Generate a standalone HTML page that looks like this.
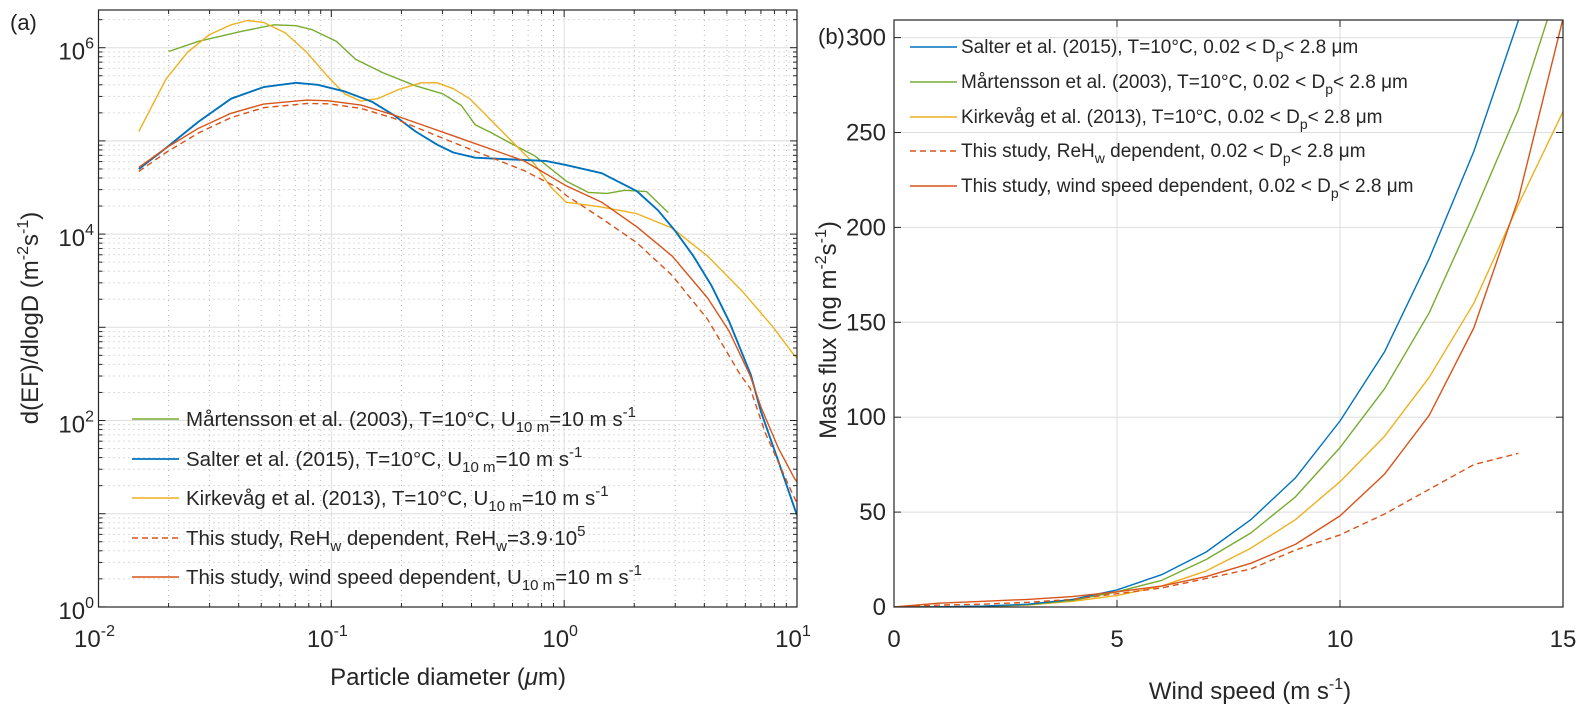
<!DOCTYPE html>
<html><head><meta charset="utf-8">
<style>
html,body{margin:0;padding:0;background:#fff;}
svg{display:block;font-family:"Liberation Sans",Arial,sans-serif;}
</style></head>
<body>
<svg id="fig" width="1593" height="717" viewBox="0 0 1593 717" xmlns="http://www.w3.org/2000/svg">
<defs>
<clipPath id="clipA"><rect x="98.5" y="10" width="698.5" height="597"/></clipPath>
<clipPath id="clipB"><rect x="894" y="20" width="669" height="587"/></clipPath>
</defs>
<rect x="0" y="0" width="1593" height="717" fill="#fff"/>
<g id="gridA"></g>
<g id="gridB"></g>
<g id="seriesA" clip-path="url(#clipA)"></g>
<g id="seriesB" clip-path="url(#clipB)"></g>
<g id="axesA"></g>
<g id="axesB"></g>

<text x="10" y="30" font-size="22" fill="#222">(a)</text>
<text x="818" y="44" font-size="22" fill="#222">(b)</text>

<text x="448" y="685" font-size="24" fill="#262626" text-anchor="middle">Particle diameter (<tspan font-style="italic">μ</tspan>m)</text>
<text transform="translate(38,318) rotate(-90)" font-size="24" fill="#262626" text-anchor="middle">d(EF)/dlogD (m<tspan dy="-10" font-size="16">-2</tspan><tspan dy="10">s</tspan><tspan dy="-10" font-size="16">-1</tspan><tspan dy="10">)</tspan></text>
<text x="1250" y="699" font-size="24" fill="#262626" text-anchor="middle">Wind speed (m s<tspan dy="-10" font-size="16">-1</tspan><tspan dy="10">)</tspan></text>
<text transform="translate(836,330) rotate(-90)" font-size="24" fill="#262626" text-anchor="middle">Mass flux (ng m<tspan dy="-10" font-size="16">-2</tspan><tspan dy="10">s</tspan><tspan dy="-10" font-size="16">-1</tspan><tspan dy="10">)</tspan></text>

<g font-size="20.5" fill="#262626">
<g>
<line x1="132" y1="419" x2="179" y2="419" stroke="#77AC30" stroke-width="1.4"/>
<text x="186" y="426">Mårtensson et al. (2003), T=10°C, U<tspan dy="6" font-size="15">10 m</tspan><tspan dy="-6">=10 m s</tspan><tspan dy="-9" font-size="15">-1</tspan></text></g>
<g>
<line x1="132" y1="459" x2="179" y2="459" stroke="#0072BD" stroke-width="1.8"/>
<text x="186" y="466">Salter et al. (2015), T=10°C, U<tspan dy="6" font-size="15">10 m</tspan><tspan dy="-6">=10 m s</tspan><tspan dy="-9" font-size="15">-1</tspan></text></g>
<g>
<line x1="132" y1="498" x2="179" y2="498" stroke="#EDB120" stroke-width="1.4"/>
<text x="186" y="505">Kirkevåg et al. (2013), T=10°C, U<tspan dy="6" font-size="15">10 m</tspan><tspan dy="-6">=10 m s</tspan><tspan dy="-9" font-size="15">-1</tspan></text></g>
<g>
<line x1="132" y1="538" x2="179" y2="538" stroke="#D95319" stroke-width="1.4" stroke-dasharray="6,4"/>
<text x="186" y="545">This study, ReH<tspan dy="6" font-size="15">w</tspan><tspan dy="-6"> dependent, ReH</tspan><tspan dy="6" font-size="15">w</tspan><tspan dy="-6">=3.9·10</tspan><tspan dy="-9" font-size="15">5</tspan></text></g>
<g>
<line x1="132" y1="577" x2="179" y2="577" stroke="#D95319" stroke-width="1.4"/>
<text x="186" y="584">This study, wind speed dependent, U<tspan dy="6" font-size="15">10 m</tspan><tspan dy="-6">=10 m s</tspan><tspan dy="-9" font-size="15">-1</tspan></text></g>
</g>

<g font-size="19" fill="#262626">
<g>
<line x1="910" y1="47" x2="957" y2="47" stroke="#0072BD" stroke-width="1.4"/>
<text x="961" y="53">Salter et al. (2015), T=10°C, 0.02 &lt; D<tspan dy="6" font-size="14">p</tspan><tspan dy="-6">&lt; 2.8 μm</tspan></text></g>
<g>
<line x1="910" y1="82" x2="957" y2="82" stroke="#77AC30" stroke-width="1.4"/>
<text x="961" y="88">Mårtensson et al. (2003), T=10°C, 0.02 &lt; D<tspan dy="6" font-size="14">p</tspan><tspan dy="-6">&lt; 2.8 μm</tspan></text></g>
<g>
<line x1="910" y1="117" x2="957" y2="117" stroke="#EDB120" stroke-width="1.4"/>
<text x="961" y="123">Kirkevåg et al. (2013), T=10°C, 0.02 &lt; D<tspan dy="6" font-size="14">p</tspan><tspan dy="-6">&lt; 2.8 μm</tspan></text></g>
<g>
<line x1="910" y1="151" x2="957" y2="151" stroke="#D95319" stroke-width="1.4" stroke-dasharray="6,4"/>
<text x="961" y="157">This study, ReH<tspan dy="6" font-size="14">w</tspan><tspan dy="-6"> dependent,  0.02 &lt; D</tspan><tspan dy="6" font-size="14">p</tspan><tspan dy="-6">&lt; 2.8 μm</tspan></text></g>
<g>
<line x1="910" y1="186" x2="957" y2="186" stroke="#D95319" stroke-width="1.4"/>
<text x="961" y="192">This study, wind speed dependent, 0.02 &lt; D<tspan dy="6" font-size="14">p</tspan><tspan dy="-6">&lt; 2.8 μm</tspan></text></g>
</g>
</svg>

<script>
// ---------- Panel (a) data ----------
const martD = [0.020,0.0269,0.0412,0.0569,0.0705,0.0828,0.105,0.127,0.166,0.230,0.301,0.362,0.415,0.488,0.587,0.748,1.02,1.27,1.53,1.82,2.26,2.69,2.8];
const martV = [9.1e5,1.17e6,1.50e6,1.76e6,1.72e6,1.56e6,1.17e6,7.5e5,5.4e5,3.9e5,3.2e5,2.4e5,1.49e5,1.22e5,9.5e4,6.9e4,3.7e4,2.8e4,2.73e4,2.95e4,2.86e4,1.87e4,1.7e4];
const saltD = [0.0149,0.0195,0.0269,0.0371,0.0512,0.0705,0.0875,0.114,0.150,0.185,0.230,0.285,0.334,0.415,0.542,0.834,1.02,1.45,2.05,2.53,3.01,3.59,4.28,5.1,6.33,7.0,8.34,10];
const saltV = [4.98e4,8.4e4,1.61e5,2.84e5,3.78e5,4.2e5,4.0e5,3.4e5,2.62e5,1.90e5,1.26e5,9.1e4,7.5e4,6.6e4,6.4e4,6.1e4,5.5e4,4.5e4,2.9e4,1.8e4,1.07e4,5.8e3,2.84e3,1.17e3,310,125,36,9.6];
const kirkD = [0.0149,0.0195,0.0241,0.0299,0.0371,0.0436,0.0512,0.0634,0.0785,0.0973,0.114,0.134,0.158,0.195,0.243,0.285,0.334,0.393,0.461,0.542,0.637,0.748,0.879,1.02,1.45,2.05,2.91,4.13,5.86,7.9,9.7,10];
const kirkV = [1.26e5,4.6e5,8.9e5,1.38e6,1.76e6,1.96e6,1.87e6,1.44e6,8.9e5,4.8e5,3.2e5,2.67e5,2.84e5,3.57e5,4.2e5,4.2e5,3.63e5,2.84e5,1.90e5,1.26e5,8.4e4,5.6e4,3.18e4,2.2e4,1.95e4,1.66e4,1.16e4,5.8e3,2.4e3,1.0e3,506,470];
const windD = [0.0149,0.0195,0.0269,0.0371,0.0512,0.0785,0.0973,0.134,0.185,0.256,0.353,0.488,0.673,1.02,1.45,2.05,2.91,4.13,5.1,6.3,7.0,8.34,9.75,10];
const windV = [5.2e4,8.4e4,1.37e5,1.98e5,2.48e5,2.74e5,2.69e5,2.42e5,1.90e5,1.43e5,1.08e5,8.1e4,6.1e4,3.3e4,2.2e4,1.2e4,5.8e3,2.06e3,920,300,140,50,24,22];
const rehwD = [0.0149,0.0195,0.0269,0.0371,0.0512,0.0785,0.0973,0.134,0.185,0.256,0.353,0.488,0.673,0.927,1.02,1.45,2.05,2.91,4.13,5.69,6.3,7.3,9.6,10];
const rehwV = [4.71e4,7.5e4,1.22e5,1.78e5,2.27e5,2.52e5,2.50e5,2.23e5,1.75e5,1.26e5,9.1e4,6.6e4,4.8e4,3.19e4,2.6e4,1.47e4,8.1e3,3.6e3,1.22e3,313,220,74,16,13];
const xTickExpA = [-2,-1,0,1];
const yTickExpA = [0,2,4,6];

// ---------- Panel (b) data ----------
const windSpeeds = [0,1,2,3,4,5,6,7,8,9,10,11,12,13,14,15];
const saltFlux = [0,0.1,0.5,1.5,4,9,17,29,46,68,98,134.5,183.5,240,309,400];
const martFlux = [0,0,0.3,1.2,3.5,8,14,25,39,58,84,115,155,207,262,335];
const kirkFlux = [0,0,0.3,1,3,6,11,19,31,46,66,90,121,160,212,261];
const windFlux = [0,2,3,4,5.5,8,11,16,23,33,48,70,101,147,215,310];
const rehwSpeeds = [0,1,2,3,4,5,6,7,8,9,10,11,12,13,14];
const rehwFlux = [0,1,1.5,2.5,4,7,10,15,20,30,38,49,62,75,81];
const xTicksB = [0,5,10,15];
const yTicksB = [0,50,100,150,200,250,300];

const NS = "http://www.w3.org/2000/svg";
function mk(tag, attrs, parent){const e=document.createElementNS(NS,tag);for(const k in attrs)e.setAttribute(k,attrs[k]);parent.appendChild(e);return e;}

// axis functions
const A = {x0:98.5,x1:797,y0:10,y1:607};
function xA(d){return A.x0+232.83*(Math.log10(d)+2);}
function yA(v){return 47.7+93.2*(6-Math.log10(v));}
const B = {x0:894,x1:1563,y0:20,y1:607};
function xB(u){return B.x0+(B.x1-B.x0)*u/15;}
function yB(v){return 607-1.898*v;}

const gridA=document.getElementById('gridA'), axesA=document.getElementById('axesA'), seriesA=document.getElementById('seriesA');
const gridB=document.getElementById('gridB'), axesB=document.getElementById('axesB'), seriesB=document.getElementById('seriesB');

// Panel a grid & ticks
for(let e=-2;e<1;e++){for(let m=1;m<10;m++){const x=xA(m*Math.pow(10,e));
  if(m===1){if(e>-2){const g=mk('line',{x1:x,y1:A.y0,x2:x,y2:A.y1,stroke:'#dedede','stroke-width':1},gridA);
    
    }}
  else{const g=mk('line',{x1:x,y1:A.y0,x2:x,y2:A.y1,stroke:'#b8b8b8','stroke-width':1,'stroke-dasharray':'1,4'},gridA);
    
    }
  const len=m===1?7:4;
  mk('line',{x1:x,y1:A.y1,x2:x,y2:A.y1-len,stroke:'#262626'},axesA);
  mk('line',{x1:x,y1:A.y0,x2:x,y2:A.y0+len,stroke:'#262626'},axesA);
}}
for(let e=0;e<7;e++){for(let m=1;m<10;m++){const v=m*Math.pow(10,e);const y=yA(v);if(y<A.y0)continue;
  if(m===1){if(e>0){const g=mk('line',{x1:A.x0,y1:y,x2:A.x1,y2:y,stroke:'#dedede','stroke-width':1},gridA);
    
    }}
  else{const g=mk('line',{x1:A.x0,y1:y,x2:A.x1,y2:y,stroke:'#b8b8b8','stroke-width':1,'stroke-dasharray':'1,4'},gridA);
    
    }
  const len=m===1?7:4;
  mk('line',{x1:A.x0,y1:y,x2:A.x0+len,y2:y,stroke:'#262626'},axesA);
  mk('line',{x1:A.x1,y1:y,x2:A.x1-len,y2:y,stroke:'#262626'},axesA);
}}
const boxA=mk('rect',{x:A.x0,y:A.y0,width:A.x1-A.x0,height:A.y1-A.y0,fill:'none',stroke:'#262626','stroke-width':1.2},axesA);


xTickExpA.forEach(e=>{const t=mk('text',{x:xA(Math.pow(10,e))-4,y:647,'font-size':24,fill:'#262626','text-anchor':'middle'},axesA);
  
  
  t.innerHTML='10<tspan dy="-11" font-size="16">'+(e<0?'-'+(-e):e)+'</tspan>';});
yTickExpA.forEach(e=>{const t=mk('text',{x:94,y:yA(Math.pow(10,e))+12,'font-size':24,fill:'#262626','text-anchor':'end'},axesA);
  
  
  t.innerHTML='10<tspan dy="-11" font-size="16">'+e+'</tspan>';});

function lineA(D,V,color,w,dash,name){let d='';D.forEach((x,i)=>{d+=(i?'L':'M')+xA(x).toFixed(1)+','+yA(V[i]).toFixed(1);});
  const p=mk('path',{d:d,fill:'none',stroke:color,'stroke-width':w,'stroke-linejoin':'round'},seriesA);
  if(dash)p.setAttribute('stroke-dasharray',dash);
  
  }
lineA(martD,martV,'#77AC30',1.4,null,'martensson-line-a');
lineA(kirkD,kirkV,'#EDB120',1.4,null,'kirkevag-line-a');
lineA(saltD,saltV,'#0072BD',1.9,null,'salter-line-a');
lineA(rehwD,rehwV,'#D95319',1.4,'6,4','rehw-line-a');
lineA(windD,windV,'#D95319',1.4,null,'wind-line-a');

// Panel b grid & ticks
xTicksB.forEach(u=>{const x=xB(u);
  if(u>0&&u<15){const g=mk('line',{x1:x,y1:B.y0,x2:x,y2:B.y1,stroke:'#dedede'},gridB);
    
    }
  mk('line',{x1:x,y1:B.y1,x2:x,y2:B.y1-7,stroke:'#262626'},axesB);
  mk('line',{x1:x,y1:B.y0,x2:x,y2:B.y0+7,stroke:'#262626'},axesB);
  const t=mk('text',{x:x,y:647,'font-size':24,fill:'#262626','text-anchor':'middle'},axesB);
  
  
  t.textContent=u;});
yTicksB.forEach(v=>{const y=yB(v);
  if(v>0){const g=mk('line',{x1:B.x0,y1:y,x2:B.x1,y2:y,stroke:'#dedede'},gridB);
    
    }
  mk('line',{x1:B.x0,y1:y,x2:B.x0+7,y2:y,stroke:'#262626'},axesB);
  mk('line',{x1:B.x1,y1:y,x2:B.x1-7,y2:y,stroke:'#262626'},axesB);
  const t=mk('text',{x:886,y:y+8,'font-size':24,fill:'#262626','text-anchor':'end'},axesB);
  
  
  t.textContent=v;});
const boxB=mk('rect',{x:B.x0,y:B.y0,width:B.x1-B.x0,height:B.y1-B.y0,fill:'none',stroke:'#262626','stroke-width':1.2},axesB);



function lineB(U,V,color,dash,name){let d='';U.forEach((u,i)=>{d+=(i?'L':'M')+xB(u).toFixed(1)+','+yB(V[i]).toFixed(1);});
  const p=mk('path',{d:d,fill:'none',stroke:color,'stroke-width':1.4,'stroke-linejoin':'round'},seriesB);
  if(dash)p.setAttribute('stroke-dasharray',dash);
  
  }
lineB(windSpeeds,kirkFlux,'#EDB120',null,'kirkevag-line-b');
lineB(windSpeeds,martFlux,'#77AC30',null,'martensson-line-b');
lineB(windSpeeds,saltFlux,'#0072BD',null,'salter-line-b');
lineB(rehwSpeeds,rehwFlux,'#D95319','6,4','rehw-line-b');
lineB(windSpeeds,windFlux,'#D95319',null,'wind-line-b');
</script>
</body></html>
